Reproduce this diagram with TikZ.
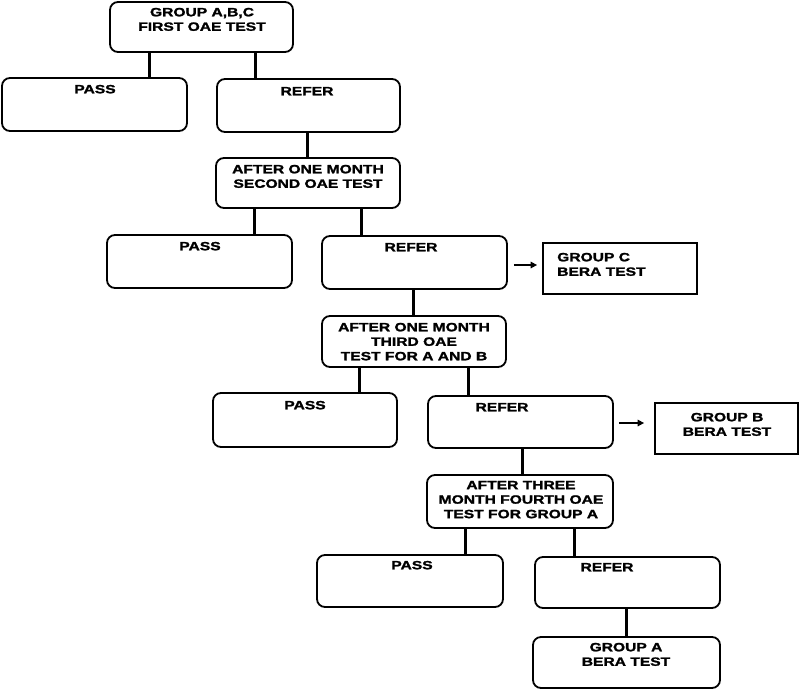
\documentclass[tikz,border=0pt]{standalone}
\usepackage{fontspec}
\newfontfamily\lbl{Liberation Sans}[FakeStretch=1.3,FakeBold=1.8]
\usetikzlibrary{arrows.meta}
\begin{document}
\begin{tikzpicture}[x=1pt,y=-1pt,
  rbox/.style={draw=black,line width=1.8pt,rounded corners=8pt,inner sep=0pt,fill=none},
  sbox/.style={draw=black,line width=1.8pt,inner sep=0pt},
  lbl/.style={inner sep=0pt,font=\lbl\bfseries\fontsize{12}{14.5}\selectfont},
  conn/.style={line width=3pt},
  arr/.style={line width=1.5pt,-{Triangle[length=6.5pt,width=6.5pt]}}]
\useasboundingbox (0,0) rectangle (800,689);
% boxes
\node[rbox,minimum width=183pt,minimum height=50pt] (b1) at (201.5,27) {};
\node[rbox,minimum width=185pt,minimum height=53pt] (p1) at (94.5,104.5) {};
\node[rbox,minimum width=183pt,minimum height=53pt] (r1) at (308.5,105.5) {};
\node[rbox,minimum width=184pt,minimum height=50pt] (b3) at (308,183) {};
\node[rbox,minimum width=185pt,minimum height=53pt] (p2) at (199.5,261.5) {};
\node[rbox,minimum width=185pt,minimum height=53pt] (r2) at (414.5,262.5) {};
\node[sbox,minimum width=154pt,minimum height=51pt] (gc) at (620,268.5) {};
\node[rbox,minimum width=184pt,minimum height=51pt] (b5) at (414,341.5) {};
\node[rbox,minimum width=184pt,minimum height=54pt] (p3) at (305,420) {};
\node[rbox,minimum width=185pt,minimum height=52pt] (r3) at (520.5,422) {};
\node[sbox,minimum width=143pt,minimum height=51pt] (gb) at (726.5,428.5) {};
\node[rbox,minimum width=186pt,minimum height=53pt] (b7) at (520,501.5) {};
\node[rbox,minimum width=186pt,minimum height=52pt] (p4) at (410,581) {};
\node[rbox,minimum width=185pt,minimum height=51pt] (r4) at (627.5,582.5) {};
\node[rbox,minimum width=187pt,minimum height=51pt] (ga) at (626.5,662.5) {};
% texts
\node[lbl,align=center,anchor=north] (t1) at (202,7.7) {GROUP A,B,C\\FIRST OAE TEST};
\node[lbl,anchor=base] (tp1) at (95,93.3) {PASS};
\node[lbl,anchor=base] (tr1) at (307,95.3) {REFER};
\node[lbl,align=center,anchor=north] (t3) at (308,164.7) {AFTER ONE MONTH\\SECOND OAE TEST};
\node[lbl,anchor=base] (tp2) at (200,250.3) {PASS};
\node[lbl,anchor=base] (tr2) at (411,251.3) {REFER};
\node[lbl,align=left,anchor=north west] (tc) at (557,252.7) {GROUP C\\BERA TEST};
\node[lbl,align=center,anchor=north] (t5) at (414,322.7) {AFTER ONE MONTH\\THIRD OAE\\TEST FOR A AND B};
\node[lbl,anchor=base] (tp3) at (305,409.3) {PASS};
\node[lbl,anchor=base] (tr3) at (502,411.3) {REFER};
\node[lbl,align=center,anchor=north] (tb) at (727,412.7) {GROUP B\\BERA TEST};
\node[lbl,align=center,anchor=north] (t7) at (521,480.7) {AFTER THREE\\MONTH FOURTH OAE\\TEST FOR GROUP A};
\node[lbl,anchor=base] (tp4) at (412,569.3) {PASS};
\node[lbl,anchor=base] (tr4) at (607,571.3) {REFER};
\node[lbl,align=center,anchor=north] (ta) at (626,642.7) {GROUP A\\BERA TEST};
% connectors
\draw[conn] ([xshift=-52.5pt]b1.south) -- ([xshift=-52.5pt]b1.south |- p1.north);
\draw[conn] ([xshift=53.5pt]b1.south) -- ([xshift=53.5pt]b1.south |- r1.north);
\draw[conn] ([xshift=-1.5pt]r1.south) -- ([xshift=-1.5pt]r1.south |- b3.north);
\draw[conn] ([xshift=-54pt]b3.south) -- ([xshift=-54pt]b3.south |- p2.north);
\draw[conn] ([xshift=53pt]b3.south) -- ([xshift=53pt]b3.south |- r2.north);
\draw[conn] ([xshift=-1.5pt]r2.south) -- ([xshift=-1.5pt]r2.south |- b5.north);
\draw[conn] ([xshift=-55pt]b5.south) -- ([xshift=-55pt]b5.south |- p3.north);
\draw[conn] ([xshift=54pt]b5.south) -- ([xshift=54pt]b5.south |- r3.north);
\draw[conn] ([xshift=1.5pt]r3.south) -- ([xshift=1.5pt]r3.south |- b7.north);
\draw[conn] ([xshift=-55pt]b7.south) -- ([xshift=-55pt]b7.south |- p4.north);
\draw[conn] ([xshift=54pt]b7.south) -- ([xshift=54pt]b7.south |- r4.north);
\draw[conn] ([xshift=-1.5pt]r4.south) -- ([xshift=-1.5pt]r4.south |- ga.north);
% arrows
\coordinate (a2) at ([xshift=6pt,yshift=-2.5pt]r2.east);
\coordinate (a3) at ([xshift=5pt,yshift=-1pt]r3.east);
\draw[arr] (a2) -- ([xshift=-5pt]gc.west |- a2);
\draw[arr] (a3) -- ([xshift=-10pt]gb.west |- a3);
\end{tikzpicture}
\end{document}
